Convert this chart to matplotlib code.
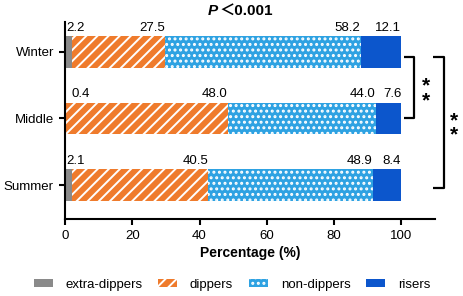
import numpy as np
import matplotlib.pyplot as plt

plt.rcParams['font.family'] = ['Liberation Sans', 'Noto Sans CJK SC', 'DejaVu Sans']
plt.rcParams['hatch.linewidth'] = 1.4

seasons = ['Summer', 'Middle', 'Winter']
extra_dippers = [2.1, 0.4, 2.2]
dippers = [40.5, 48.0, 27.5]
non_dippers = [48.9, 44.0, 58.2]
risers = [8.4, 7.6, 12.1]

groups = ['extra-dippers', 'dippers', 'non-dippers', 'risers']
colors = ['#8a8a8a', '#ef7b2c', '#2ea2e2', '#0c56cc']
hatches = [None, '///', '...', None]

fig = plt.figure(figsize=(4.64, 2.96), dpi=100)
ax = fig.add_axes([0.140, 0.26, 0.7975, 0.666])

y = np.arange(len(seasons))
h = 0.47
left = np.zeros(len(seasons))
for vals, name, c, ht in zip([extra_dippers, dippers, non_dippers, risers], groups, colors, hatches):
    vals = np.array(vals)
    if ht:
        ax.barh(y, vals, h, left=left, color=c, edgecolor='white', linewidth=0,
                hatch=ht, label=name)
    else:
        ax.barh(y, vals, h, left=left, color=c, linewidth=0, label=name)
    for i, v in enumerate(vals):
        if name == 'extra-dippers':
            # small segments: label sits at the start of the bar
            x0 = 0.5 if v > 1 else 1.8
            ax.text(x0, y[i] + h / 2 + 0.04, f'{v:.1f}', ha='left', va='bottom', fontsize=9.5)
        else:
            ax.text(left[i] + v, y[i] + h / 2 + 0.04, f'{v:.1f}', ha='right', va='bottom', fontsize=9.5)
    left += vals

ax.set_xlim(0, 110)
ax.set_ylim(-0.51, 2.45)
ax.set_xticks([0, 20, 40, 60, 80, 100])
ax.set_yticks(y)
ax.set_yticklabels(seasons)
ax.tick_params(axis='both', labelsize=9.5, width=1.5, length=4.5, direction='out')
for s in ['top', 'right']:
    ax.spines[s].set_visible(False)
for s in ['left', 'bottom']:
    ax.spines[s].set_linewidth(1.5)
ax.set_xlabel('Percentage (%)', fontsize=10, fontweight='bold', labelpad=3)

# significance brackets
kw = dict(color='black', lw=1.6, clip_on=False, solid_capstyle='butt')
ax.plot([100.8, 103.9, 103.9, 100.8], [1.925, 1.925, 1.0, 1.0], **kw)
ax.plot([109.5, 112.7, 112.7, 109.5], [1.925, 1.925, -0.045, -0.045], **kw)
ax.text(107.2, 1.38, '*\n*', ha='center', va='center', fontsize=15, fontweight='bold',
        linespacing=0.7)
ax.text(115.5, 0.86, '*\n*', ha='center', va='center', fontsize=15, fontweight='bold',
        linespacing=0.7)

fig.text(0.448, 0.962, 'P', ha='left', va='center', fontsize=11, fontweight='bold',
         fontstyle='italic')
fig.text(0.472, 0.962, '＜0.001', ha='left', va='center', fontsize=11, fontweight='bold')

ax.legend(loc='lower center', bbox_to_anchor=(0.5, 0.0), bbox_transform=fig.transFigure,
          ncol=4, frameon=False, fontsize=9.5, handlelength=1.45, handleheight=0.55,
          handletextpad=0.95, columnspacing=1.2, borderaxespad=0.0)

fig.savefig('out.png', dpi=100)
